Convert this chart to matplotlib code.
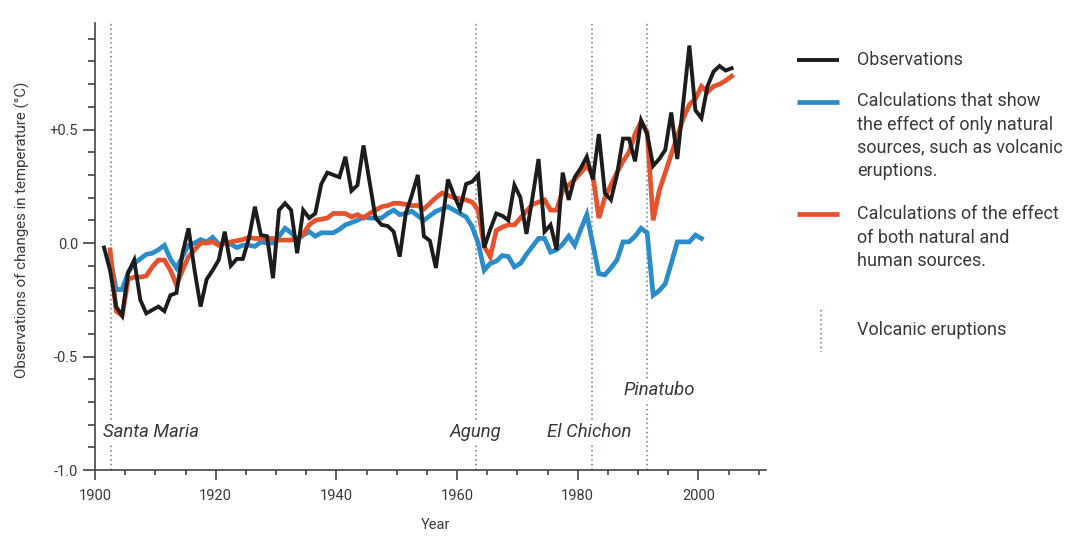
import matplotlib
matplotlib.use("Agg")
import matplotlib.pyplot as plt
from matplotlib.lines import Line2D
from matplotlib.ticker import FixedLocator, FixedFormatter, MultipleLocator

plt.rcParams['font.family'] = ['Roboto', 'DejaVu Sans']
plt.rcParams['font.weight'] = 'normal'

# ---------------- data ----------------
obs_years = list(range(1901, 2006))
obs_values = [
    -0.02, -0.12, -0.28, -0.32, -0.13, -0.075, -0.25, -0.31, -0.295,          # 1901-1909
    -0.28, -0.30, -0.23, -0.22, -0.045, 0.065, -0.12, -0.28, -0.16, -0.12,    # 1910-1919
    -0.075, 0.05, -0.10, -0.07, -0.07, 0.02, 0.16, 0.035, 0.03, -0.155,       # 1920-1929
    0.145, 0.175, 0.145, -0.045, 0.145, 0.11, 0.13, 0.26, 0.31, 0.30,         # 1930-1939
    0.29, 0.38, 0.23, 0.255, 0.43, 0.27, 0.11, 0.08, 0.075, 0.05,             # 1940-1949
    -0.06, 0.13, 0.21, 0.30, 0.03, 0.01, -0.11, 0.085, 0.28, 0.21,            # 1950-1959
    0.15, 0.26, 0.27, 0.30, -0.02, 0.06, 0.13, 0.12, 0.10, 0.255,             # 1960-1969
    0.20, 0.04, 0.20, 0.37, 0.05, 0.08, -0.03, 0.31, 0.19, 0.29,              # 1970-1979
    0.33, 0.38, 0.28, 0.48, 0.22, 0.19, 0.30, 0.46, 0.46, 0.36,               # 1980-1989
    0.54, 0.48, 0.34, 0.37, 0.41, 0.575, 0.37, 0.62, 0.87, 0.585,             # 1990-1999
    0.55, 0.69, 0.755, 0.78, 0.76, 0.77,                                      # 2000-2005
]

both_years = list(range(1902, 2006))
both_values = [
    -0.03, -0.30, -0.32, -0.16, -0.15, -0.15, -0.145, -0.105,                 # 1902-1909
    -0.075, -0.075, -0.12, -0.185, -0.12, -0.06, -0.03, 0.0, 0.0, 0.005,      # 1910-1919
    -0.01, 0.0, 0.005, 0.01, 0.015, 0.025, 0.02, 0.02, 0.02, 0.02,            # 1920-1929
    0.013, 0.013, 0.013, 0.02, 0.04, 0.08, 0.10, 0.105, 0.11, 0.13,           # 1930-1939
    0.13, 0.13, 0.115, 0.125, 0.11, 0.13, 0.145, 0.16, 0.165, 0.175,          # 1940-1949
    0.175, 0.17, 0.165, 0.165, 0.15, 0.175, 0.20, 0.22, 0.21, 0.20,           # 1950-1959
    0.195, 0.19, 0.18, 0.145, -0.015, -0.06, 0.055, 0.07, 0.08, 0.08,         # 1960-1969
    0.11, 0.14, 0.17, 0.18, 0.19, 0.145, 0.145, 0.23, 0.255, 0.28,            # 1970-1979
    0.31, 0.34, 0.30, 0.11, 0.20, 0.255, 0.31, 0.36, 0.40, 0.48,              # 1980-1989
    0.535, 0.49, 0.10, 0.23, 0.31, 0.39, 0.47, 0.55, 0.61, 0.635,             # 1990-1999
    0.69, 0.665, 0.69, 0.70, 0.715, 0.735,                                    # 2000-2005
]

natural_years = list(range(1902, 2001))
natural_values = [
    -0.06, -0.205, -0.205, -0.13, -0.09, -0.07, -0.05, -0.045,                # 1902-1909
    -0.03, -0.01, -0.07, -0.11, -0.06, -0.01, 0.0, 0.015, 0.005, 0.025,       # 1910-1919
    -0.005, 0.0, -0.005, -0.02, -0.01, -0.01, -0.015, 0.005, 0.0, 0.0,        # 1920-1929
    0.03, 0.065, 0.045, 0.015, 0.035, 0.05, 0.03, 0.045, 0.045, 0.045,        # 1930-1939
    0.06, 0.08, 0.09, 0.10, 0.115, 0.11, 0.11, 0.11, 0.13, 0.145,             # 1940-1949
    0.125, 0.13, 0.14, 0.12, 0.10, 0.12, 0.14, 0.15, 0.16, 0.145,             # 1950-1959
    0.13, 0.115, 0.072, 0.0, -0.12, -0.09, -0.08, -0.055, -0.06, -0.105,      # 1960-1969
    -0.09, -0.05, -0.015, 0.02, 0.02, -0.04, -0.03, -0.005, 0.03, -0.01,      # 1970-1979
    0.06, 0.125, -0.005, -0.135, -0.14, -0.11, -0.075, 0.005, 0.005, 0.03,    # 1980-1989
    0.065, 0.045, -0.23, -0.21, -0.18, -0.09, 0.005, 0.005, 0.005, 0.035,     # 1990-1999
    0.02,                                                                     # 2000
]

eruption_names = ["Santa Maria", "Agung", "El Chichon", "Pinatubo"]
eruption_years = [1902.6, 1963.2, 1982.3, 1991.5]

y_tick_values = [-1.0, -0.5, 0.0, 0.5]
y_tick_labels = ["-1.0", "-0.5", "0.0", "+0.5"]
x_tick_values = [1900, 1920, 1940, 1960, 1980, 2000]
x_tick_labels = ["1900", "1920", "1940", "1960", "1980", "2000"]

legend_obs = "Observations"
legend_natural = ["Calculations that show", "the effect of only natural",
                  "sources, such as volcanic", "eruptions."]
legend_both = ["Calculations of the effect", "of both natural and",
               "human sources."]
legend_volc = "Volcanic eruptions"

# ---------------- style ----------------
C_OBS = "#1c1c1c"
C_NAT = "#2b8ccc"
C_BOTH = "#e5522b"
C_VOLC = "#5a8585"
C_TEXT = "#3a3a3a"
C_AXIS = "#444444"

W, H = 1080, 540
fig = plt.figure(figsize=(W / 100, H / 100), dpi=100)
ax = fig.add_axes([95 / W, 1 - 470 / H, 671 / W, (470 - 23.3) / H])

x_off = 0.5  # annual values plotted at mid-year
ax.plot([y + x_off for y in natural_years], natural_values, color=C_NAT,
        lw=3.4, solid_joinstyle='miter', zorder=3)
ax.plot([y + x_off for y in both_years], both_values, color=C_BOTH,
        lw=3.4, solid_joinstyle='miter', zorder=4)
ax.plot([y + x_off for y in obs_years], obs_values, color=C_OBS,
        lw=2.8, solid_joinstyle='miter', zorder=5)

ax.set_xlim(1900, 2011.2)
ax.set_ylim(-1.0, 0.968)

for yr in eruption_years:
    ax.axvline(yr, color=C_VOLC, lw=1.1, linestyle=(0, (1.0, 2.0)), zorder=2)

label_pos = [(1901.3, -0.833, 'left'), (1963.0, -0.833, 'center'),
             (1981.9, -0.833, 'center'), (1993.5, -0.648, 'center')]
for name, (lx, ly, ha) in zip(eruption_names, label_pos):
    ax.text(lx, ly, name, ha=ha, va='center', style='italic', fontsize=13.3,
            color=C_TEXT, zorder=6,
            bbox=dict(facecolor='white', edgecolor='none', pad=1.5))

for s in ['top', 'right']:
    ax.spines[s].set_visible(False)
for s in ['left', 'bottom']:
    ax.spines[s].set_color(C_AXIS)
    ax.spines[s].set_linewidth(1.2)

ax.yaxis.set_major_locator(FixedLocator(y_tick_values))
ax.yaxis.set_major_formatter(FixedFormatter(y_tick_labels))
ax.yaxis.set_minor_locator(FixedLocator([round(-1.0 + 0.1 * i, 1) for i in range(20)]))
ax.xaxis.set_major_locator(FixedLocator(x_tick_values))
ax.xaxis.set_major_formatter(FixedFormatter(x_tick_labels))
ax.xaxis.set_minor_locator(MultipleLocator(5))

ax.tick_params(axis='y', which='major', length=9, width=1.2, color=C_AXIS,
               labelsize=10.5, labelcolor=C_TEXT, pad=3)
ax.tick_params(axis='y', which='minor', length=5, width=1.2, color=C_AXIS)
ax.tick_params(axis='x', which='major', length=7.5, width=1.2, color=C_AXIS,
               labelsize=10.5, labelcolor=C_TEXT, pad=6)
ax.tick_params(axis='x', which='minor', length=3.6, width=1.2, color=C_AXIS)

fig.text(436 / W, 1 - 525 / H, "Year", ha='center', va='center',
         fontsize=10.5, color=C_TEXT)
fig.text(22 / W, 1 - 230 / H, "Observations of changes in temperature (°C)",
         ha='center', va='center', rotation=90, fontsize=10.8, color=C_TEXT)

# ---------------- legend (manual) ----------------
def fx(px):
    return px / W


def fy(py):
    return 1 - py / H


def handle(y, color, lw):
    fig.add_artist(Line2D([fx(797), fx(839)], [fy(y), fy(y)], color=color,
                          lw=lw, solid_capstyle='butt'))


def lines(y0, texts, pitch=23):
    for i, t in enumerate(texts):
        fig.text(fx(857), fy(y0 + i * pitch), t, ha='left', va='center',
                 fontsize=13, color=C_TEXT)


handle(60, C_OBS, 2.8)
lines(60, [legend_obs])
handle(101.5, C_NAT, 3.4)
lines(101.5, legend_natural)
handle(214.5, C_BOTH, 3.4)
lines(214.5, legend_both)
fig.add_artist(Line2D([fx(821), fx(821)], [fy(310), fy(352)], color=C_VOLC,
                      lw=1.1, linestyle=(0, (1.0, 2.0))))
lines(330, [legend_volc])

fig.savefig("out.png", dpi=100, facecolor='white')
